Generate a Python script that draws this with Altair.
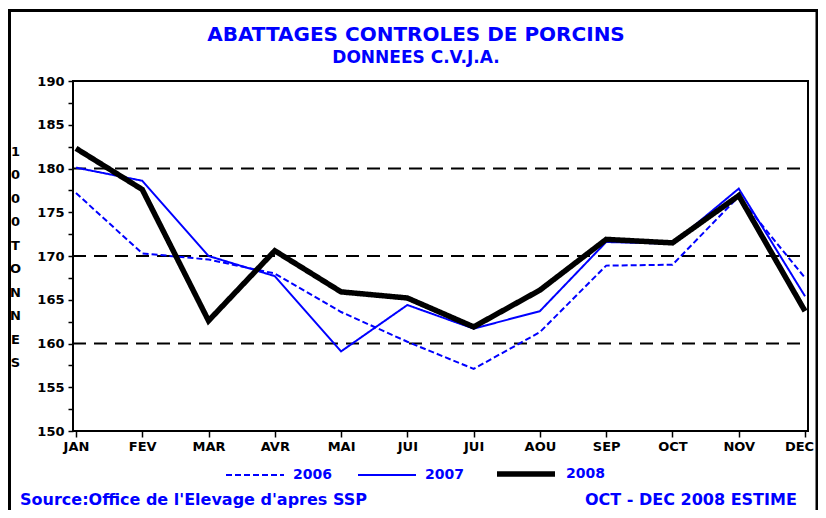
import altair as alt
import pandas as pd

months = ["JAN", "FEV", "MAR", "AVR", "MAI", "JUI", "JUI", "AOU", "SEP", "OCT", "NOV", "DEC"]
years = ["2006", "2007", "2008"]
v2006 = [177.2, 170.3, 169.6, 168.0, 163.6, 160.2, 157.1, 161.3, 168.9, 169.0, 176.8, 167.5]
v2007 = [180.1, 178.6, 170.0, 167.7, 159.1, 164.4, 161.7, 163.7, 171.6, 171.4, 177.7, 165.4]
v2008 = [182.3, 177.6, 162.6, 170.6, 165.9, 165.2, 161.9, 166.1, 171.9, 171.5, 176.9, 163.7]
grid_vals = [150, 160, 170, 180, 190]
y_ticks = [150 + 2.5 * i for i in range(17)]
title_text = "ABATTAGES CONTROLES DE PORCINS"
subtitle_text = "DONNEES C.V.J.A."
source_text = "Source:Office de l'Elevage d'apres SSP"
note_text = "OCT - DEC 2008 ESTIME"
y_title = ["1", "0", "0", "0", " ", "T", "O", "N", "N", "E", "S"]

BLUE = "#0000FF"
FONT = "DejaVu Sans"
W, H = 735, 350

rows = []
for yr, vals in zip(years, [v2006, v2007, v2008]):
    for i, v in enumerate(vals):
        rows.append({"m": i + 1, "value": v, "year": yr})
df = pd.DataFrame(rows)

xscale = alt.Scale(domain=[0.955, 12.045], nice=False, zero=False)
yscale = alt.Scale(domain=[150, 190], nice=False, zero=False)

label_expr = "[" + ",".join("'%s'" % m for m in months) + "][datum.value - 1]"

yaxis = alt.Axis(
    values=y_ticks, labelExpr="datum.value % 5 == 0 ? datum.label : ''",
    title=y_title, titleAngle=0, titleX=-58, titleY=64, titleBaseline="top",
    titleAlign="center", titleLineHeight=23.5, titleFont=FONT, titleFontSize=13,
    titleFontWeight="bold", titleColor="black", grid=False, domain=False,
    tickColor="black", tickSize=5, tickWidth=1.5, labelPadding=4,
    labelFont=FONT, labelFontSize=13, labelFontWeight="bold", labelColor="black",
)

xaxis = alt.Axis(
    values=list(range(1, 13)), labelExpr=label_expr, title=None, grid=False,
    domain=False, tickColor="black", tickSize=6, tickWidth=1.5, labelPadding=3,
    labelOffset={"condition": {"test": "datum.value == 12", "value": -6}, "value": 0},
    labelFont=FONT, labelFontSize=13, labelFontWeight="bold", labelColor="black",
)

legend = alt.Legend(
    orient="none", legendX=152, legendY=361, direction="horizontal", title=None,
    symbolType="stroke", symbolSize=3364, labelColor=BLUE, labelFont=FONT,
    labelFontWeight="bold", labelFontSize=14, labelOffset=8, columnPadding=22, padding=0,
)

lines = alt.Chart(df).mark_line().encode(
    x=alt.X("m:Q", scale=xscale, axis=xaxis),
    y=alt.Y("value:Q", scale=yscale, axis=yaxis),
    color=alt.Color("year:N", scale=alt.Scale(domain=years, range=[BLUE, BLUE, "black"]), legend=legend),
    strokeDash=alt.StrokeDash("year:N", scale=alt.Scale(domain=years, range=[[6, 3], [1, 0], [1, 0]]), legend=legend),
    strokeWidth=alt.StrokeWidth("year:N", scale=alt.Scale(type="ordinal", domain=years, range=[2, 2, 5.5]), legend=legend),
    order=alt.Order("m:Q"),
)

grid = alt.Chart(pd.DataFrame({"v": grid_vals})).mark_rule(
    color="black", strokeDash=[13, 8], strokeWidth=2
).encode(y=alt.Y("v:Q", scale=yscale, axis=yaxis), x=alt.value(0), x2=alt.value(W))

frame = alt.Chart(pd.DataFrame({"a": [0]})).mark_rect(
    fillOpacity=0, stroke="black", strokeWidth=3
).encode(x=alt.value(-63.5), x2=alt.value(744), y=alt.value(-70.5), y2=alt.value(460))


def txt(s, x, y, size, align="center"):
    return alt.Chart(pd.DataFrame({"t": [s]})).mark_text(
        align=align, baseline="middle", font=FONT, fontSize=size, fontWeight="bold", color=BLUE
    ).encode(x=alt.value(x), y=alt.value(y), text="t:N")


chart = alt.layer(
    frame, grid, lines,
    txt(title_text, 343, -46, 20),
    txt(subtitle_text, 343, -23, 17),
    txt(source_text, -53, 419, 16, "left"),
    txt(note_text, 512, 419, 16, "left"),
).properties(
    width=W, height=H, background="white",
    autosize=alt.AutoSizeParams(type="none"),
    padding={"left": 65, "top": 73, "right": 10, "bottom": 79},
).configure_view(stroke="black", strokeWidth=2)

chart.save("out.html", embed_options={"renderer": "svg", "actions": False})
